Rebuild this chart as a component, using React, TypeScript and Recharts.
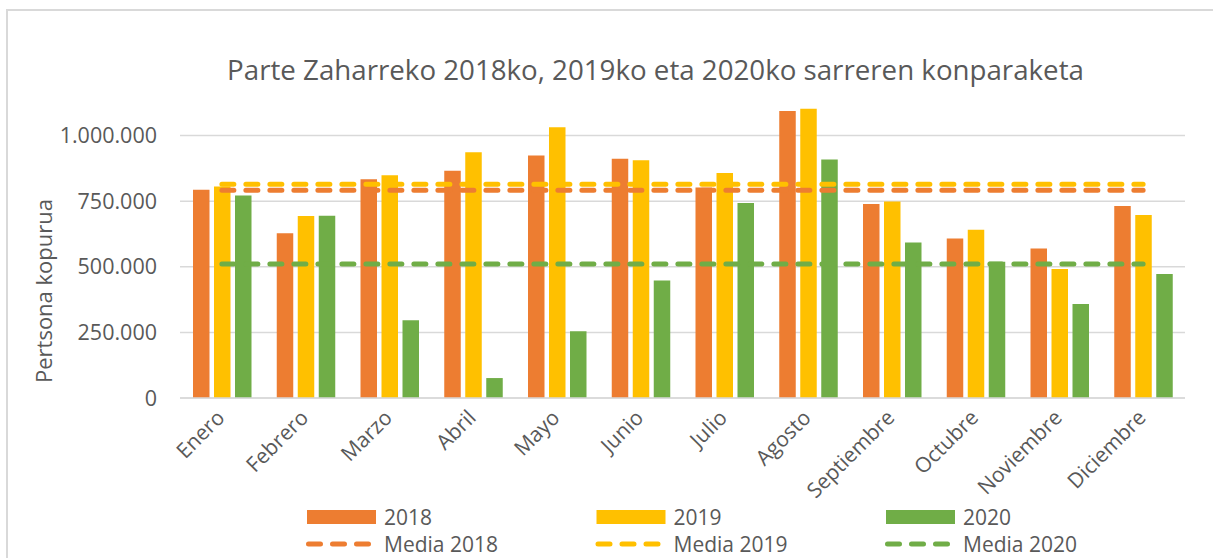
import React from 'react';
import { ComposedChart, Bar, Line, XAxis, YAxis, CartesianGrid } from 'recharts';

const months = ['Enero', 'Febrero', 'Marzo', 'Abril', 'Mayo', 'Junio', 'Julio', 'Agosto', 'Septiembre', 'Octubre', 'Noviembre', 'Diciembre'];
const sarrerak2018 = [794000, 628000, 834000, 866000, 924000, 912000, 802000, 1094000, 739000, 608000, 570000, 732000];
const sarrerak2019 = [806000, 694000, 849000, 937000, 1032000, 906000, 857000, 1102000, 749000, 641000, 492000, 697000];
const sarrerak2020 = [772000, 695000, 296000, 76000, 254000, 448000, 743000, 909000, 593000, 519000, 358000, 473000];
const media2018 = 792000;
const media2019 = 815000;
const media2020 = 511000;
const yTicks = [0, 250000, 500000, 750000, 1000000];
const yDomainMax = 1250000;
const barNames = ['2018', '2019', '2020'];
const mediaNames = ['Media 2018', 'Media 2019', 'Media 2020'];
const title = 'Parte Zaharreko 2018ko, 2019ko eta 2020ko sarreren konparaketa';
const yTitle = 'Pertsona kopurua';

const COLORS = ['#ED7D31', '#FFC000', '#70AD47'];
const TEXT = '#595959';
const GRID = '#D9D9D9';
const FONT = '"Open Sans", "Noto Sans", sans-serif';

const data = months.map((m, i) => ({
  month: m,
  y2018: sarrerak2018[i],
  y2019: sarrerak2019[i],
  y2020: sarrerak2020[i],
  m2018: media2018,
  m2019: media2019,
  m2020: media2020,
}));

const fmt = (v: number) => String(v).replace(/\B(?=(\d{3})+(?!\d))/g, '.');

const MonthTick = (props: any) => {
  const { x, y, payload } = props;
  const ax = x + 4;
  const ay = y + 19;
  return (
    <text
      x={ax}
      y={ay}
      transform={`rotate(-45, ${ax}, ${ay})`}
      textAnchor="end"
      fontSize={21}
      fontFamily={FONT}
      fill={TEXT}
    >
      {payload.value}
    </text>
  );
};

const gridRows = (props: any) => {
  const yAxis = props && props.yAxis;
  const sc = yAxis && yAxis.scale;
  if (typeof sc === 'function') return yTicks.map((t) => sc(t));
  if (sc && typeof sc.map === 'function') return yTicks.map((t) => sc.map(t));
  const off = props && props.offset;
  if (off && typeof off.top === 'number') {
    return yTicks.map((t) => off.top + off.height * (1 - t / yDomainMax));
  }
  return [];
};

export default function App() {
  const legendCols = [307, 596.5, 886];
  return (
    <div style={{ position: 'absolute', left: 0, top: 0, width: 1213, height: 558, overflow: 'hidden', background: '#fff' }}>
      <div
        style={{
          position: 'absolute',
          left: 6,
          top: 9,
          width: 1240,
          height: 600,
          border: `2px solid ${GRID}`,
          boxSizing: 'border-box',
        }}
      />
      <div style={{ position: 'absolute', left: 0, top: 0 }}>
        <ComposedChart
          width={1213}
          height={558}
          data={data}
          margin={{ top: 70, right: 28, bottom: 120, left: 0 }}
          barSize={16.5}
          barGap={4.5}
        >
          <CartesianGrid
            horizontal
            vertical={false}
            stroke={GRID}
            strokeWidth={1.5}
            horizontalCoordinatesGenerator={gridRows}
          />
          <XAxis
            dataKey="month"
            interval={0}
            height={40}
            tickLine={false}
            tickSize={0}
            axisLine={{ stroke: GRID, strokeWidth: 1.5 }}
            tick={<MonthTick />}
          />
          <YAxis
            width={180}
            domain={[0, yDomainMax]}
            ticks={yTicks}
            allowDataOverflow
            tickFormatter={fmt}
            axisLine={false}
            tickLine={false}
            tickSize={0}
            tickMargin={23}
            tick={{ fontSize: 21.5, fontFamily: FONT, fill: TEXT }}
          />
          <Bar dataKey="y2018" name={barNames[0]} fill={COLORS[0]} isAnimationActive={false} />
          <Bar dataKey="y2019" name={barNames[1]} fill={COLORS[1]} isAnimationActive={false} />
          <Bar dataKey="y2020" name={barNames[2]} fill={COLORS[2]} isAnimationActive={false} />
          <Line dataKey="m2018" name={mediaNames[0]} stroke={COLORS[0]} strokeWidth={5} strokeDasharray="12 12" strokeLinecap="round" dot={false} activeDot={false} isAnimationActive={false} />
          <Line dataKey="m2019" name={mediaNames[1]} stroke={COLORS[1]} strokeWidth={5} strokeDasharray="12 12" strokeLinecap="round" dot={false} activeDot={false} isAnimationActive={false} />
          <Line dataKey="m2020" name={mediaNames[2]} stroke={COLORS[2]} strokeWidth={5} strokeDasharray="12 12" strokeLinecap="round" dot={false} activeDot={false} isAnimationActive={false} />
        </ComposedChart>
      </div>
      <svg
        width={1213}
        height={558}
        style={{ position: 'absolute', left: 0, top: 0, pointerEvents: 'none' }}
      >
        <text x={655.5} y={80} textAnchor="middle" fontSize={27.7} fontFamily={FONT} fill={TEXT}>
          {title}
        </text>
        <text
          transform="translate(52, 291) rotate(-90)"
          textAnchor="middle"
          fontSize={22}
          fontFamily={FONT}
          fill={TEXT}
        >
          {yTitle}
        </text>
        {legendCols.map((lx, i) => (
          <g key={i}>
            <rect x={lx} y={510} width={69} height={14} fill={COLORS[i]} />
            <text x={lx + 77} y={524.5} fontSize={21} fontFamily={FONT} fill={TEXT}>
              {barNames[i]}
            </text>
            <line
              x1={lx + 1.5}
              y1={544}
              x2={lx + 61.5}
              y2={544}
              stroke={COLORS[i]}
              strokeWidth={5}
              strokeDasharray="12 12"
              strokeLinecap="round"
            />
            <text x={lx + 77} y={551.5} fontSize={21} fontFamily={FONT} fill={TEXT}>
              {mediaNames[i]}
            </text>
          </g>
        ))}
      </svg>
    </div>
  );
}
